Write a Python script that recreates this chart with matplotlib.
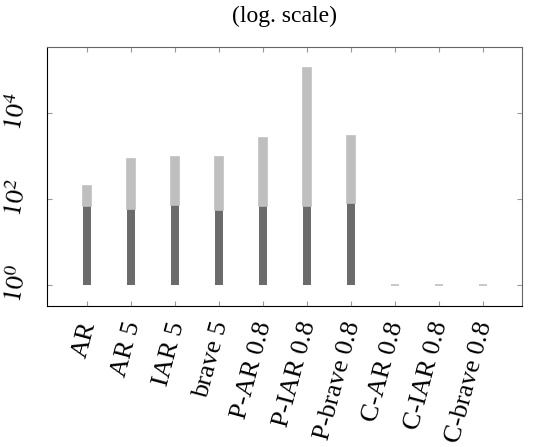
import matplotlib
matplotlib.use('Agg')
from matplotlib import pyplot as plt
from matplotlib.transforms import ScaledTranslation
import numpy as np

plt.rcParams['font.family'] = 'Liberation Serif'
plt.rcParams['mathtext.fontset'] = 'stix'

# data (log scale)
labels = ['AR', 'AR 5', 'IAR 5', 'brave 5', 'P-AR 0.8', 'P-IAR 0.8',
          'P-brave 0.8', 'C-AR 0.8', 'C-IAR 0.8', 'C-brave 0.8']
dark = [70, 59.5, 72, 56.5, 67, 69, 81, 1, 1, 1]
light = [135, 800, 851, 900, 2590, 110300, 2880, 0, 0, 0]

dark_col = '#6b6b6b'
light_col = '#bfbfbf'

fig = plt.figure(figsize=(5.33, 4.47), dpi=100)
ax = fig.add_axes([0.088, 0.315, 0.891, 0.58])

x = np.arange(len(labels))
dark = np.array(dark, dtype=float)
light = np.array(light, dtype=float)

ax.set_yscale('log')
ax.bar(x, dark - 1, bottom=1, width=0.19, color=dark_col, linewidth=0)
ax.bar(x, light, bottom=dark, width=0.19, color=light_col,
       edgecolor=light_col, linewidth=1.2)

ax.set_xlim(-0.92, 9.89)
ax.set_ylim(10 ** -0.49, 10 ** 5.53)

ax.set_xticks(x)
ax.set_xticklabels(labels, rotation=75, ha='right', va='center_baseline',
                   rotation_mode='anchor', fontsize=19)
shift = ScaledTranslation(-4 / 72, 0, fig.dpi_scale_trans)
for lab in ax.get_xticklabels():
    lab.set_transform(lab.get_transform() + shift)

ax.set_yticks([1, 1e2, 1e4])
ax.set_yticklabels([r'$10^{0}$', r'$10^{2}$', r'$10^{4}$'], rotation=80,
                   va='baseline', ha='center', rotation_mode='anchor', fontsize=19)
ax.yaxis.set_minor_locator(matplotlib.ticker.NullLocator())

ax.tick_params(axis='both', which='major', direction='in', length=3.5,
               width=0.8, color='#999999', top=True, right=True)
ax.tick_params(axis='x', pad=11)
ax.tick_params(axis='y', pad=16)

for s in ['left', 'bottom']:
    ax.spines[s].set_color('black')
for s in ['top', 'right']:
    ax.spines[s].set_color('#666666')

ax.set_title('(log. scale)', fontsize=17, pad=18)

fig.savefig('out.png', dpi=100)
